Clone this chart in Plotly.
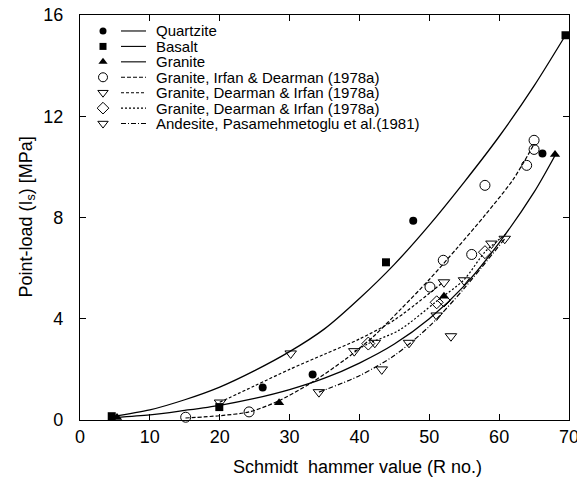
import plotly.graph_objects as go

# ---------------- data ----------------
quartzite_x = [26.15, 33.3, 47.7, 66.2]
quartzite_y = [1.28, 1.8, 7.87, 10.53]

basalt_x = [4.54, 19.94, 43.8, 69.5]
basalt_y = [0.15, 0.51, 6.23, 15.2]

granite_x = [5.3, 28.5, 52.1, 68.0]
granite_y = [0.1, 0.68, 4.89, 10.49]

irfan_x = [15.13, 24.2, 50.1, 52.0, 56.07, 57.97, 63.94, 65.0, 65.0]
irfan_y = [0.11, 0.32, 5.25, 6.31, 6.54, 9.27, 10.06, 10.69, 11.05]

dearman_tri_x = [20.04, 30.16, 39.26, 42.2, 52.1, 54.97]
dearman_tri_y = [0.69, 2.63, 2.72, 3.05, 5.44, 5.52]

dearman_dia_x = [41.27, 51.06, 52.1, 57.97]
dearman_dia_y = [3.02, 4.65, 4.72, 6.63]

andesite_x = [34.2, 43.2, 47.1, 51.06, 53.1, 58.9, 60.8]
andesite_y = [1.1, 2.0, 3.05, 4.13, 3.31, 6.97, 7.16]

# fitted curves
curve_upper_x = [4.5, 10, 15, 20, 25, 30, 35, 40, 45, 50, 55, 60, 65, 69.5]
curve_upper_y = [0.13, 0.4, 0.8, 1.3, 1.95, 2.7, 3.6, 4.8, 6.15, 7.7, 9.4, 11.2, 13.2, 15.2]

curve_lower_x = [5, 10, 15, 20, 25, 30, 35, 40, 45, 50, 55, 60, 65, 68]
curve_lower_y = [0.1, 0.2, 0.38, 0.58, 0.85, 1.2, 1.65, 2.25, 3.0, 4.0, 5.3, 7.0, 9.0, 10.45]

curve_irfan_x = [15.1, 20, 24.2, 28, 33, 38, 42, 46, 50, 54, 58, 62, 65]
curve_irfan_y = [0.08, 0.17, 0.32, 0.7, 1.45, 2.4, 3.3, 4.4, 5.55, 6.8, 8.1, 9.5, 10.9]

curve_dtri_x = [20, 25, 30, 35, 40, 45, 52]
curve_dtri_y = [0.7, 1.35, 2.0, 2.6, 3.2, 3.95, 5.45]

curve_ddia_x = [39.3, 41.3, 45.7, 51, 55, 58, 61]
curve_ddia_y = [2.72, 3.02, 3.55, 4.68, 5.55, 6.65, 7.35]

curve_and_x = [34.2, 40, 45, 50, 55, 60.8]
curve_and_y = [1.1, 1.75, 2.55, 3.7, 5.2, 7.16]

x_ticks = [0, 10, 20, 30, 40, 50, 60, 70]
y_ticks = [0, 4, 8, 12, 16]

legend_labels = [
    "Quartzite",
    "Basalt",
    "Granite",
    "Granite, Irfan & Dearman (1978a)",
    "Granite, Dearman & Irfan (1978a)",
    "Granite, Dearman & Irfan (1978a)",
    "Andesite, Pasamehmetoglu et al.(1981)",
]

# ---------------- styles ----------------
BLACK = "black"
FONT = "Liberation Sans, Arial, Helvetica, sans-serif"

sym = {
    "q": dict(symbol="circle", size=8, color=BLACK),
    "b": dict(symbol="square", size=8, color=BLACK),
    "g": dict(symbol="triangle-up", size=9, color=BLACK),
    "i": dict(symbol="circle-open", size=10, color=BLACK, line=dict(width=1, color=BLACK)),
    "t": dict(symbol="triangle-down-open", size=10, color=BLACK, line=dict(width=1, color=BLACK)),
    "d": dict(symbol="diamond-open", size=10, color=BLACK, line=dict(width=1, color=BLACK)),
    "a": dict(symbol="triangle-down-open", size=10, color=BLACK, line=dict(width=1, color=BLACK)),
}
dash_solid = "solid"
dash_i = "4px,2px"
dash_t = "3px,2px"
dash_d = "2px,2px"
dash_a = "5px,2px,1px,2px"

fig = go.Figure()

def add_curve(x, y, dash, width=1.3):
    fig.add_trace(go.Scatter(x=x, y=y, mode="lines", line=dict(color=BLACK, width=width, dash=dash, shape="spline", smoothing=0.8),
                             showlegend=False, hoverinfo="skip"))

def add_pts(x, y, m):
    fig.add_trace(go.Scatter(x=x, y=y, mode="markers", marker=m, showlegend=False, cliponaxis=False))

add_curve(curve_upper_x, curve_upper_y, dash_solid)
add_curve(curve_lower_x, curve_lower_y, dash_solid)
add_curve(curve_irfan_x, curve_irfan_y, dash_i, 1.2)
add_curve(curve_dtri_x, curve_dtri_y, dash_t, 1.2)
add_curve(curve_ddia_x, curve_ddia_y, dash_d, 1.2)
add_curve(curve_and_x, curve_and_y, dash_a, 1.2)

add_pts(irfan_x, irfan_y, sym["i"])
add_pts(dearman_tri_x, dearman_tri_y, sym["t"])
add_pts(dearman_dia_x, dearman_dia_y, sym["d"])
add_pts(andesite_x, andesite_y, sym["a"])
add_pts(quartzite_x, quartzite_y, sym["q"])
add_pts(basalt_x, basalt_y, sym["b"])
add_pts(granite_x, granite_y, sym["g"])

# ---------------- layout in page pixels (body margin removed by post_script) ----------------
W, H = 577, 484
px_x0, px_x1 = 80, 569        # plot area left/right
px_y1, px_y0 = 15, 420.5      # plot area top/bottom
ML, MR, MT, MB = px_x0, W - px_x1, px_y1, H - px_y0

LEG_MARK_X = 103
LEG_LINE_X0, LEG_LINE_X1 = 121, 146
LEG_TEXT_X = 154
LEG_Y0, LEG_DY = 31, 15.45
leg_keys = ["q", "b", "g", "i", "t", "d", "a"]
leg_dash = [dash_solid, dash_solid, dash_solid, dash_i, dash_t, dash_d, dash_a]

for k, (key, dsh) in enumerate(zip(leg_keys, leg_dash)):
    yy = LEG_Y0 + k * LEG_DY
    m = dict(sym[key])
    m["size"] = m["size"] - 1
    fig.add_trace(go.Scatter(x=[LEG_MARK_X], y=[yy], mode="markers", marker=m, xaxis="x2", yaxis="y2",
                             showlegend=False, hoverinfo="skip"))
    fig.add_trace(go.Scatter(x=[LEG_LINE_X0, LEG_LINE_X1], y=[yy, yy], mode="lines",
                             line=dict(color=BLACK, width=1.1, dash=dsh), xaxis="x2", yaxis="y2",
                             showlegend=False, hoverinfo="skip"))
    fig.add_annotation(x=LEG_TEXT_X, y=yy, xref="x2", yref="y2", text=legend_labels[k], showarrow=False,
                       xanchor="left", yanchor="middle", font=dict(size=15, color=BLACK, family=FONT))

axis_common = dict(ticks="inside", ticklen=6, tickwidth=1.2, tickcolor=BLACK, showline=True, linecolor=BLACK,
                   linewidth=1.3, mirror="ticks", showgrid=False, zeroline=False, automargin=False,
                   ticklabeloverflow="allow",
                   tickfont=dict(size=18, color=BLACK, family=FONT))

fig.update_layout(
    width=W, height=H,
    margin=dict(l=ML, r=MR, t=MT, b=MB, autoexpand=False),
    paper_bgcolor="white", plot_bgcolor="white",
    showlegend=False,
    xaxis=dict(range=[0, 70], tickvals=x_ticks, **axis_common),
    yaxis=dict(range=[0, 16], tickvals=y_ticks, ticklabelstandoff=12, **axis_common),
    xaxis2=dict(range=[px_x0, px_x1], overlaying="x", visible=False, fixedrange=True),
    yaxis2=dict(range=[px_y0, px_y1], overlaying="y", visible=False, fixedrange=True),
    font=dict(family=FONT, color=BLACK),
)

fig.add_annotation(x=(27 - px_x0) / (px_x1 - px_x0), y=0.5, xref="paper", yref="paper",
                   text="Point-load (I<sub>s</sub>) [MPa]", textangle=-90, showarrow=False,
                   xanchor="center", yanchor="middle", font=dict(size=18, color=BLACK, family=FONT))
fig.add_annotation(x=(357 - px_x0) / (px_x1 - px_x0), y=(px_y0 - 468) / (px_y0 - px_y1), xref="paper", yref="paper",
                   text="Schmidt\u00a0 hammer value (R no.)", showarrow=False,
                   xanchor="center", yanchor="middle", font=dict(size=18, color=BLACK, family=FONT))

fig.write_html("out.html", config={"displayModeBar": False},
               post_script="document.body.style.margin='0';document.body.style.overflow='hidden';")
